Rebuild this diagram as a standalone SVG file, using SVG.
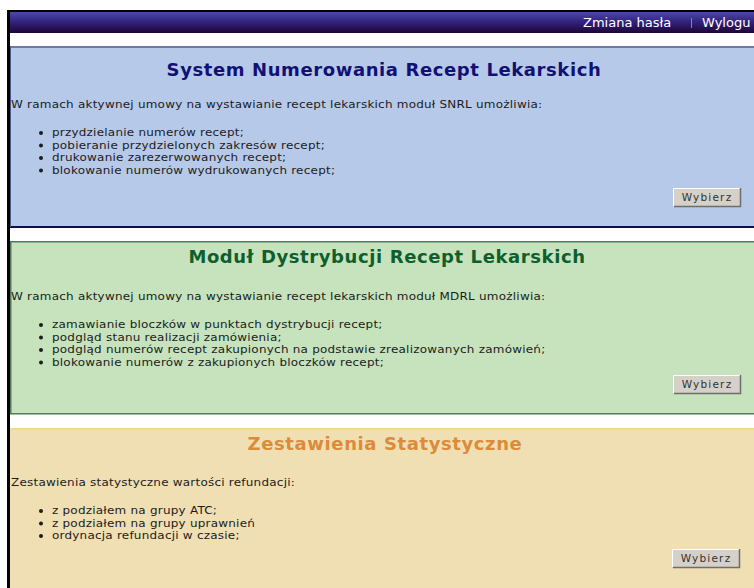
<svg xmlns="http://www.w3.org/2000/svg" width="754" height="588" viewBox="0 0 754 588">
<defs>
<linearGradient id="barGrad" x1="0" y1="0" x2="0" y2="1">
<stop offset="0" stop-color="#4b4aa6"/>
<stop offset="0.45" stop-color="#33237e"/>
<stop offset="1" stop-color="#1e0536"/>
</linearGradient>
</defs>
<style>
.body{font-family:"DejaVu Sans",Verdana,sans-serif;font-size:10.7px;letter-spacing:0.2px;fill:#1c1c1c}
.title{font-family:"DejaVu Sans",Verdana,sans-serif;font-size:18px;font-weight:bold;text-anchor:middle;letter-spacing:0.6px}
.btn{fill:#d5d1c9}
.btnt{font-family:"DejaVu Sans",Verdana,sans-serif;font-size:10.5px;fill:#333;text-anchor:middle;letter-spacing:1.2px}
.hi{stroke:#ffffff;stroke-width:1;fill:none}
.sh{stroke:#6e6e6e;stroke-width:1.5;fill:none}
.dot{fill:#1c1c1c}
.bar{font-family:"DejaVu Sans",Tahoma,sans-serif;font-size:13px;fill:#ffffff}
</style>
<rect x="0" y="0" width="754" height="588" fill="#ffffff"/>
<rect x="7" y="10" width="747" height="2" fill="#000000"/>
<rect x="7" y="10" width="3" height="578" fill="#000000"/>
<g id="topbar">
<rect x="10" y="12" width="744" height="21" fill="url(#barGrad)"/>
<text class="bar" x="583" y="27">Zmiana hasła</text>
<rect x="691" y="18" width="1" height="10" fill="#8a7fb0"/>
<text class="bar" x="702" y="27">Wylogu</text>
</g>
<g id="panel-snrl">
<rect x="10" y="46" width="744" height="181" fill="#b7c9e8"/>
<rect x="10" y="46" width="744" height="2" fill="#6e7aa4"/>
<rect x="10" y="226" width="744" height="2" fill="#0e0e4a"/>
<rect x="10" y="46" width="1" height="181" fill="#4a5a8a"/>
<text class="title" x="384" y="76" fill="#111175">System Numerowania Recept Lekarskich</text>
<circle class="dot" cx="41" cy="133" r="2"/>
<circle class="dot" cx="41" cy="145.5" r="2"/>
<circle class="dot" cx="41" cy="158" r="2"/>
<circle class="dot" cx="41" cy="170.5" r="2"/>
<g transform="scale(1.12 1)">
<text class="body" x="9.8" y="108">W ramach aktywnej umowy na wystawianie recept lekarskich moduł SNRL umożliwia:</text>
<text class="body" x="46.4" y="136.5">przydzielanie numerów recept;</text>
<text class="body" x="46.4" y="149">pobieranie przydzielonych zakresów recept;</text>
<text class="body" x="46.4" y="161.5">drukowanie zarezerwowanych recept;</text>
<text class="body" x="46.4" y="174">blokowanie numerów wydrukowanych recept;</text>
</g>
<g id="btn-snrl">
<rect class="btn" x="673" y="188" width="68" height="19"/>
<polyline class="hi" points="673.5,206 673.5,188.5 740,188.5"/>
<polyline class="sh" points="674,206.5 740.5,206.5 740.5,188"/>
<text class="btnt" x="707" y="201">Wybierz</text>
</g>
</g>
<g id="panel-mdrl">
<rect x="10" y="241" width="744" height="173" fill="#c6e3bd"/>
<rect x="10" y="241" width="744" height="1.5" fill="#4f7a60"/>
<rect x="10" y="413" width="744" height="1.5" fill="#4f7a60"/>
<rect x="10" y="241" width="1.5" height="173" fill="#4f7a60"/>
<text class="title" x="387" y="263" fill="#0f5e2e">Moduł Dystrybucji Recept Lekarskich</text>
<circle class="dot" cx="41" cy="325" r="2"/>
<circle class="dot" cx="41" cy="337.5" r="2"/>
<circle class="dot" cx="41" cy="350" r="2"/>
<circle class="dot" cx="41" cy="362.5" r="2"/>
<g transform="scale(1.12 1)">
<text class="body" x="9.8" y="300">W ramach aktywnej umowy na wystawianie recept lekarskich moduł MDRL umożliwia:</text>
<text class="body" x="46.4" y="328.5">zamawianie bloczków w punktach dystrybucji recept;</text>
<text class="body" x="46.4" y="341">podgląd stanu realizacji zamówienia;</text>
<text class="body" x="46.4" y="353.5">podgląd numerów recept zakupionych na podstawie zrealizowanych zamówień;</text>
<text class="body" x="46.4" y="366">blokowanie numerów z zakupionych bloczków recept;</text>
</g>
<g id="btn-mdrl">
<rect class="btn" x="673" y="375" width="68" height="19"/>
<polyline class="hi" points="673.5,393 673.5,375.5 740,375.5"/>
<polyline class="sh" points="674,393.5 740.5,393.5 740.5,375"/>
<text class="btnt" x="707" y="388">Wybierz</text>
</g>
</g>
<g id="panel-stat">
<rect x="10" y="428" width="744" height="160" fill="#f0dfb2"/>
<rect x="10" y="428" width="744" height="1.5" fill="#f3d88c"/>
<text class="title" x="385" y="450" fill="#dc8b39">Zestawienia Statystyczne</text>
<circle class="dot" cx="41" cy="511" r="2"/>
<circle class="dot" cx="41" cy="523.5" r="2"/>
<circle class="dot" cx="41" cy="536" r="2"/>
<g transform="scale(1.12 1)">
<text class="body" x="9.8" y="486">Zestawienia statystyczne wartości refundacji:</text>
<text class="body" x="46.4" y="514.5">z podziałem na grupy ATC;</text>
<text class="body" x="46.4" y="527">z podziałem na grupy uprawnień</text>
<text class="body" x="46.4" y="539.5">ordynacja refundacji w czasie;</text>
</g>
<g id="btn-stat">
<rect class="btn" x="672" y="549" width="68" height="19"/>
<polyline class="hi" points="672.5,567 672.5,549.5 739,549.5"/>
<polyline class="sh" points="673,567.5 739.5,567.5 739.5,549"/>
<text class="btnt" x="706" y="562">Wybierz</text>
</g>
</g>
</svg>
